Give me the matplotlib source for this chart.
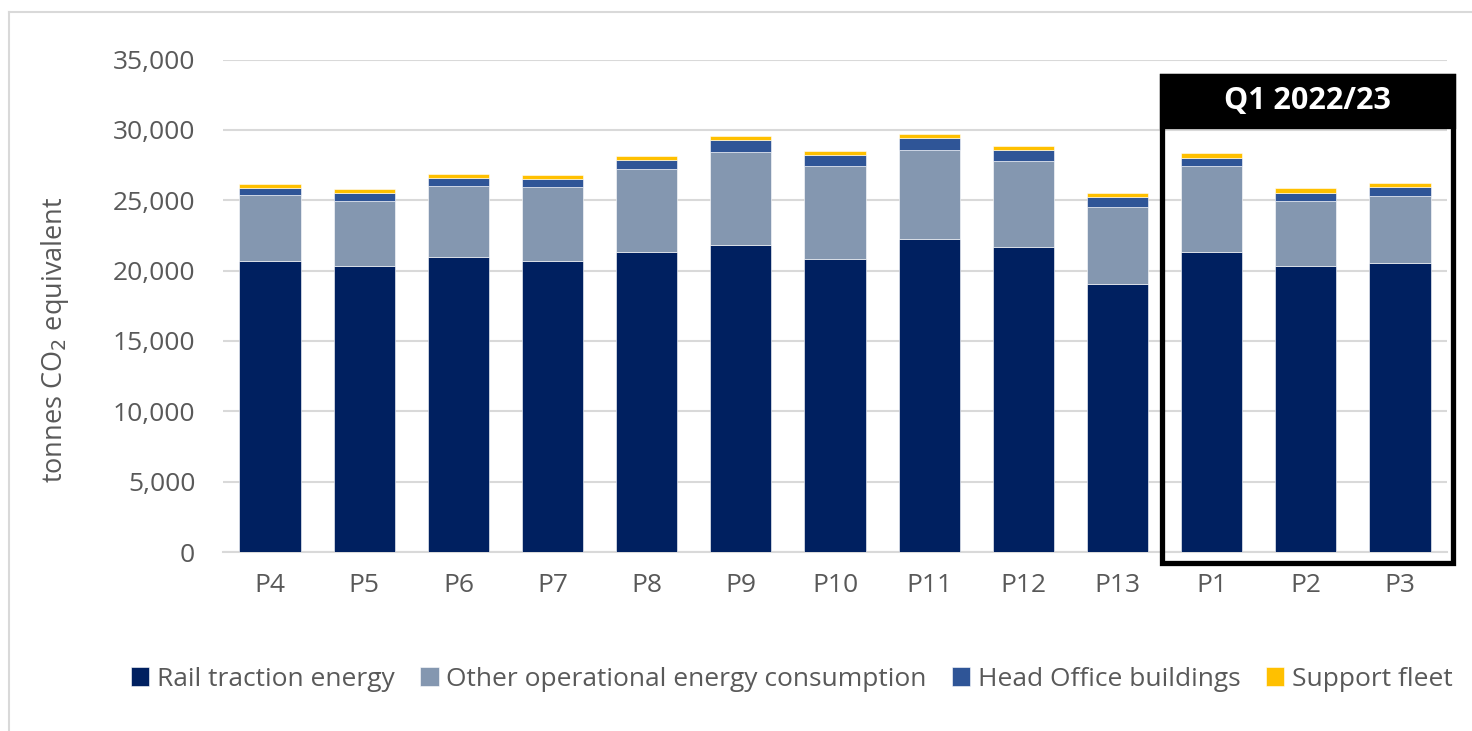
import numpy as np
import matplotlib
matplotlib.use('Agg')
import matplotlib.pyplot as plt
from matplotlib.patches import Rectangle
from matplotlib.lines import Line2D

plt.rcParams['font.family'] = ['Open Sans', 'DejaVu Sans']

periods = ['P4', 'P5', 'P6', 'P7', 'P8', 'P9', 'P10', 'P11', 'P12', 'P13', 'P1', 'P2', 'P3']
rail = [20650, 20350, 21000, 20650, 21350, 21850, 20800, 22250, 21650, 19050, 21350, 20350, 20550]
other = [4700, 4630, 5050, 5300, 5900, 6600, 6650, 6350, 6150, 5450, 6100, 4620, 4750]
head = [500, 530, 550, 550, 620, 800, 780, 830, 800, 730, 590, 570, 610]
support = [320, 300, 290, 300, 290, 330, 280, 300, 290, 290, 310, 310, 310]

series = ['Rail traction energy', 'Other operational energy consumption',
          'Head Office buildings', 'Support fleet']
colors = ['#002060', '#8497B0', '#2F5597', '#FFC000']
quarter_label = 'Q1 2022/23'

W, H = 1472, 731
fig = plt.figure(figsize=(W / 100, H / 100), dpi=100)
ax = fig.add_axes([223 / W, 1 - 552 / H, (1447 - 223) / W, (552 - 59.6) / H])

x = np.arange(len(periods))
bottom = np.zeros(len(periods))
for vals, name, col in zip([rail, other, head, support], series, colors):
    ax.bar(x, vals, 0.65, bottom=bottom, color=col, label=name,
           edgecolor='#ffffff', linewidth=0.4, zorder=3)
    bottom += np.array(vals)

ax.set_xlim(-0.5, len(periods) - 0.5)
ax.set_ylim(0, 35000)
ax.set_yticks(np.arange(0, 35001, 5000))
ax.yaxis.set_major_formatter(matplotlib.ticker.FuncFormatter(lambda v, p: f'{int(v):,}'))
ax.set_xticks(x)
ax.set_xticklabels(periods)
ax.grid(axis='y', color='#d9d9d9', linewidth=1.5, zorder=0)
for s in ['top', 'right', 'left']:
    ax.spines[s].set_visible(False)
ax.spines['bottom'].set_color('#d9d9d9')
ax.spines['bottom'].set_linewidth(1.5)
ax.tick_params(axis='both', length=0, labelsize=19, labelcolor='#595959')
ax.tick_params(axis='x', pad=15)
ax.tick_params(axis='y', pad=20)
ax.set_ylabel('tonnes CO$_2$ equivalent', fontsize=19.5, color='#595959')
ax.yaxis.set_label_coords(-(223 - 71) / (1447 - 223), 0.43)

# quarter highlight box
left, right = 9.475, 12.56
top, bot = 33850, -750
ax.add_patch(Rectangle((left, bot), right - left, top - bot, fill=False,
                       edgecolor='black', linewidth=3.8, clip_on=False, zorder=5))
ax.add_patch(Rectangle((left, 30250), right - left, top - 30250, facecolor='black',
                       edgecolor='black', linewidth=3.8, clip_on=False, zorder=5))
ax.text((left + right) / 2, (top + 30250) / 2, quarter_label, color='white',
        fontsize=22, fontweight='bold', ha='center', va='center', zorder=6)

# outer chart border
fig.add_artist(Line2D([9 / W, 9 / W], [0, 1 - 12 / H], transform=fig.transFigure,
                      color='#d9d9d9', linewidth=1.5))
fig.add_artist(Line2D([9 / W, 1], [1 - 12 / H, 1 - 12 / H], transform=fig.transFigure,
                      color='#d9d9d9', linewidth=1.5))

handles, labels = ax.get_legend_handles_labels()
fig.legend(handles, labels, loc='center', bbox_to_anchor=(792 / W, 1 - 679 / H), ncol=4,
           frameon=False, fontsize=19, labelcolor='#595959', handlelength=0.7,
           handleheight=0.7, handletextpad=0.3, columnspacing=0.95)

fig.savefig('out.png', dpi=100)
